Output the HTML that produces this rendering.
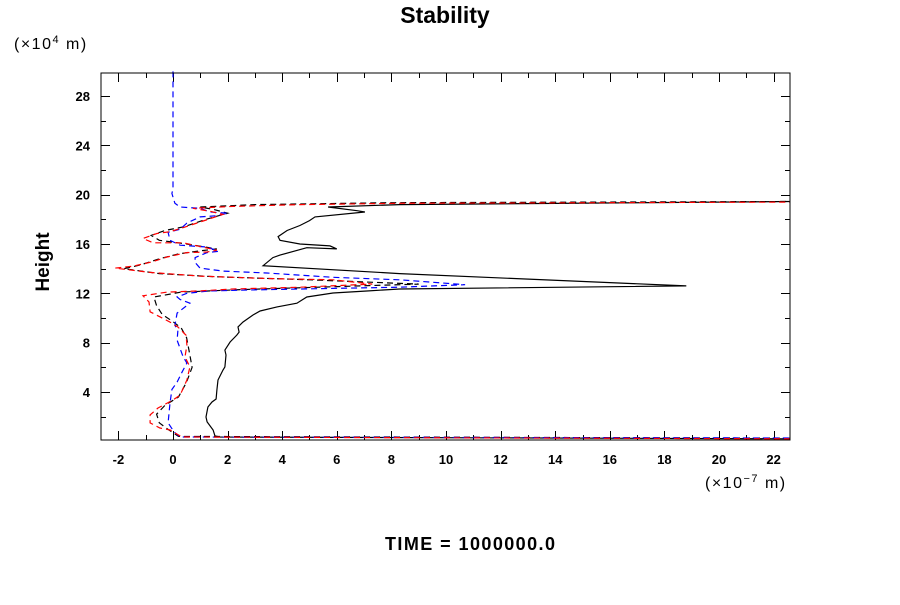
<!DOCTYPE html>
<html><head><meta charset="utf-8"><style>
html,body{margin:0;padding:0;background:#fff;}
svg text{font-family:"Liberation Sans",sans-serif;}
</style></head><body>
<svg id="chart" width="900" height="600" viewBox="0 0 900 600" xmlns="http://www.w3.org/2000/svg">
<text x="445" y="23" font-size="23" font-weight="bold" text-anchor="middle">Stability</text>
<text x="14" y="49" font-size="16" letter-spacing="1.5">(×10<tspan font-size="11" dy="-6">4</tspan><tspan dy="6"> m)</tspan></text>
<text x="705" y="488" font-size="16" letter-spacing="1.5">(×10<tspan font-size="11" dy="-6">−7</tspan><tspan dy="6"> m)</tspan></text>
<text transform="translate(49,262) rotate(-90)" font-size="19" font-weight="bold" text-anchor="middle">Height</text>
<text x="470" y="550" font-size="18" font-weight="bold" text-anchor="middle" textLength="170">TIME = 1000000.0</text>
<g id="ticks"></g>
<g id="series"></g>
<rect x="101" y="73" width="689" height="367" fill="none" stroke="#000" stroke-width="1"/>
</svg>
<script>
const xTickValues = [-2,0,2,4,6,8,10,12,14,16,18,20,22];
const yTickValues = [4,8,12,16,20,24,28];
const blackSolidX = [22.6,1.72,1.54,1.47,1.25,1.21,1.28,1.43,1.58,1.61,1.65,1.83,1.90,1.94,1.9,2.09,2.34,2.42,2.38,2.56,2.93,3.19,3.81,4.54,4.9,5.86,7.1,8.3,18.8,8.3,3.3,3.66,3.92,4.9,6.0,5.75,4.65,3.92,3.85,4.18,4.65,5.0,5.2,7.03,6.74,5.86,5.68,8.3,22.6];
const blackSolidY = [0.2,0.35,0.43,0.92,1.57,1.97,2.78,3.19,3.43,4.17,4.97,5.78,6.03,7.0,7.4,8.05,8.62,8.86,9.27,9.67,10.24,10.57,10.9,11.2,11.7,12.03,12.19,12.35,12.6,13.6,14.24,14.9,15.1,15.7,15.6,15.85,16.0,16.3,16.6,17.1,17.5,17.9,18.2,18.6,18.7,18.95,19.0,19.2,19.45];
const blueX = [0,0,-0.04,0.07,0.26,0.99,1.36,2.01,1.61,0.99,0.51,0.26,-0.18,-0.11,0.26,1.28,1.65,1.25,0.81,0.81,0.99,1.83,3.44,5.86,8.3,10.7,8.3,5.86,3.44,1.36,0.51,0.15,0.26,0.62,0.15,0.07,0.18,0.15,0.37,0.51,0.33,0.15,-0.04,-0.11,-0.18,0.04,0.26,22.6];
const blueY = [30,20.5,20.1,19.3,19.0,18.9,18.6,18.5,18.3,18.2,17.7,17.2,16.95,16.3,15.9,15.75,15.4,15.3,14.9,14.5,14.05,13.8,13.65,13.3,13.1,12.7,12.5,12.4,12.3,12.2,12.0,11.7,11.5,11.2,10.4,9.4,9.0,8.2,6.85,6.35,5.6,4.8,4.2,3.1,1.5,0.75,0.35,0.27];
const redX = [22.6,0.33,-0.11,-0.48,-0.84,-0.84,-0.55,0,0.26,0.51,0.62,0.44,0.51,0.48,0.18,-0.11,-0.48,-0.84,-0.88,-1.1,-0.22,0.99,2.2,4.65,7.3,5.86,3.44,0.99,-0.84,-2.12,-1.47,-0.77,-0.22,0.51,1.25,1.61,0.37,-0.73,-1.1,-0.59,-0.11,0.26,1.36,1.83,1.36,0.73,2.2,4.65,8.3,22.6];
const redY = [0.2,0.35,0.92,1.08,1.49,2.14,2.7,3.35,3.75,4.97,6.03,6.84,7.8,8.6,9.27,9.67,10.1,10.5,11.3,11.8,12.1,12.2,12.35,12.5,12.75,13.1,13.2,13.4,13.7,14.05,14.2,14.55,14.95,15.3,15.35,15.5,16.1,16.1,16.45,16.85,17.0,17.25,18.05,18.4,18.65,18.9,19.05,19.2,19.3,19.4];
const blackDashX = [22.6,0.2,-0.2,-0.5,-0.6,-0.3,0.2,0.5,0.7,0.6,0.5,0.3,0.0,-0.4,-0.6,-0.7,0.3,2.5,6.0,9.0,5.0,1.5,-0.5,-1.8,-1.2,-0.5,0.2,1.0,1.6,0.5,-0.5,-0.8,-0.3,0.4,1.2,2.0,1.5,1.0,3.0,8.0,22.6];
const blackDashY = [0.25,0.4,1.0,1.5,2.2,2.9,3.6,4.8,6.0,7.2,8.4,9.2,9.7,10.3,11.0,11.7,12.1,12.3,12.55,12.75,13.1,13.35,13.6,14.0,14.3,14.8,15.2,15.45,15.6,16.0,16.3,16.7,17.1,17.4,18.0,18.5,18.8,19.0,19.2,19.35,19.45];

const L=101,R=790,T=73,B=440;
const xMin=-2.637,xMax=22.6,yMin=0.105,yMax=29.87;
function sx(v){return L+(v-xMin)/(xMax-xMin)*(R-L);}
function sy(v){return B-(v-yMin)/(yMax-yMin)*(B-T);}
const NS="http://www.w3.org/2000/svg";
const tg=document.getElementById('ticks');
function line(x1,y1,x2,y2){const l=document.createElementNS(NS,'line');l.setAttribute('x1',x1);l.setAttribute('y1',y1);l.setAttribute('x2',x2);l.setAttribute('y2',y2);l.setAttribute('stroke','#000');l.setAttribute('stroke-width','1');tg.appendChild(l);return l;}
for(let v=-2;v<=22;v+=1){
  const major=(v%2===0);const len=major?9:5;const x=Math.round(sx(v))+0.5;
  const a=line(x,B,x,B-len);
  
  
  const b=line(x,T,x,T+len);
  
  
}
for(let v=2;v<=28;v+=2){
  const major=(v%4===0);const len=major?9:5;const y=Math.round(sy(v))+0.5;
  const a=line(L,y,L+len,y);
  
  
  const b=line(R,y,R-len,y);
  
  
}
xTickValues.forEach(v=>{
  const t=document.createElementNS(NS,'text');
  t.setAttribute('x',sx(v));t.setAttribute('y',464);t.setAttribute('font-size','13');t.setAttribute('font-weight','bold');t.setAttribute('text-anchor','middle');
  t.textContent=v;
  
  
  tg.appendChild(t);
});
yTickValues.forEach(v=>{
  const t=document.createElementNS(NS,'text');
  t.setAttribute('x',90);t.setAttribute('y',sy(v)+5);t.setAttribute('font-size','13');t.setAttribute('font-weight','bold');t.setAttribute('text-anchor','end');
  t.textContent=v;
  
  
  tg.appendChild(t);
});
const sg=document.getElementById('series');
function series(xs,ys,color,dash){
  const p=document.createElementNS(NS,'polyline');
  p.setAttribute('points',xs.map((x,i)=>sx(x).toFixed(1)+','+sy(ys[i]).toFixed(1)).join(' '));
  p.setAttribute('fill','none');p.setAttribute('stroke',color);p.setAttribute('stroke-width','1.2');
  if(dash)p.setAttribute('stroke-dasharray',dash);
  sg.appendChild(p);return p;
}
const s1=series(blackSolidX,blackSolidY,'#000',null);


const s4=series(blackDashX,blackDashY,'#000','6,4');


const s2=series(blueX,blueY,'#0000ff','6,4');


const s3=series(redX,redY,'#ff0000','6,4');


</script>
</body></html>
